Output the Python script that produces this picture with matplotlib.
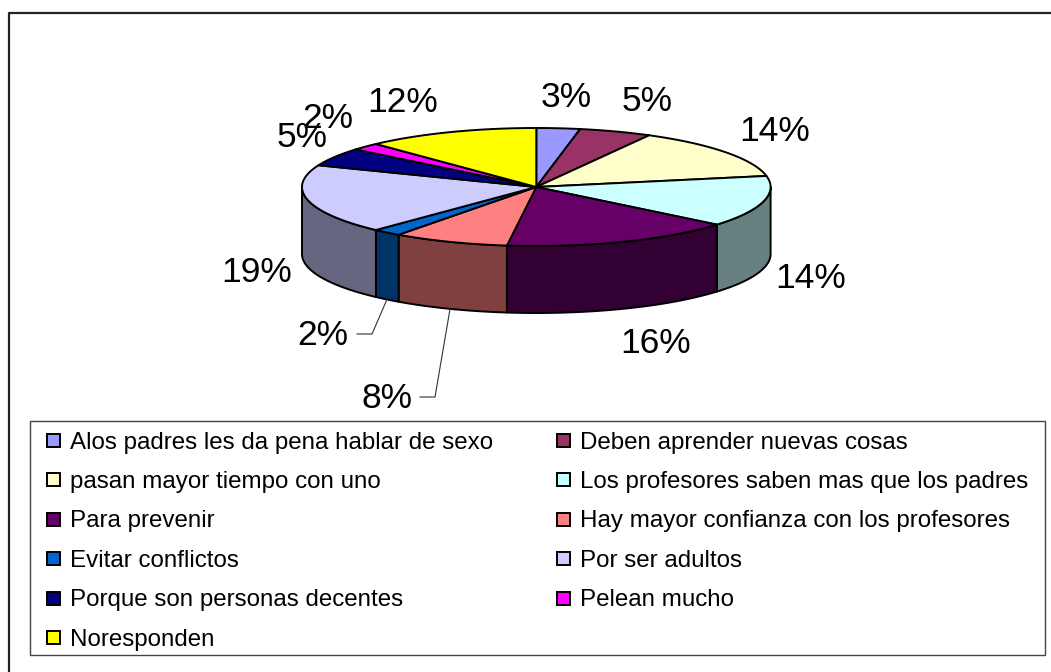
"""3D-style pie of reasons, Excel look, drawn with plain patches."""

import numpy as np
import matplotlib
matplotlib.use("Agg")
import matplotlib.pyplot as plt
from matplotlib.patches import Polygon, Rectangle
from matplotlib.lines import Line2D

plt.rcParams["font.family"] = ["Liberation Sans", "DejaVu Sans"]

# ---- data ---------------------------------------------------------------
categories = [
    "Alos padres les da pena hablar de sexo",
    "Deben aprender nuevas cosas",
    "pasan mayor tiempo con uno",
    "Los profesores saben mas que los padres",
    "Para prevenir",
    "Hay mayor confianza con los profesores",
    "Evitar conflictos",
    "Por ser adultos",
    "Porque son personas decentes",
    "Pelean mucho",
    "Noresponden",
]
percentages = [3, 5, 14, 14, 16, 8, 2, 19, 5, 2, 12]
colors = ["#9999FF", "#993366", "#FFFFCC", "#CCFFFF", "#660066", "#FF8080",
          "#0066CC", "#CCCCFF", "#000080", "#FF00FF", "#FFFF00"]

# ---- layout (pixels, y down) -----------------------------------------------
W, H = 1051, 672
cx, cy, rx, ry, depth = 536.3, 187.0, 234.3, 59.0, 67.0
label_xy = [(566, 107), (647, 111), (775, 141), (811, 288), (656, 353),
            (387, 408), (323, 345), (257, 282), (302, 147), (328, 128),
            (403, 112)]
leader = {5: (420, 397), 6: (357, 334)}

fig = plt.figure(figsize=(W / 100, H / 100), dpi=100)
ax = fig.add_axes([0, 0, 1, 1])
ax.set_xlim(0, W)
ax.set_ylim(H, 0)
ax.axis("off")


def ell(t, dy=0.0):
    t = np.radians(t)
    return cx + rx * np.sin(t), cy - ry * np.cos(t) + dy


def darker(c, f=0.5):
    r, g, b = matplotlib.colors.to_rgb(c)
    return (r * f, g * f, b * f)


bounds = np.concatenate([[0], np.cumsum(percentages)]) / sum(percentages) * 360

# outer walls (front half only)
for i, c in enumerate(colors):
    a0, a1 = max(bounds[i], 90), min(bounds[i + 1], 270)
    if a1 <= a0:
        continue
    t = np.linspace(a0, a1, 80)
    xt, yt = ell(t)
    xb, yb = ell(t[::-1], depth)
    pts = np.column_stack([np.r_[xt, xb], np.r_[yt, yb]])
    ax.add_patch(Polygon(pts, closed=True, fc=darker(c), ec="black", lw=1.4,
                         joinstyle="round"))

# top faces
for i, c in enumerate(colors):
    t = np.linspace(bounds[i], bounds[i + 1], 100)
    x, y = ell(t)
    pts = np.column_stack([np.r_[cx, x], np.r_[cy, y]])
    ax.add_patch(Polygon(pts, closed=True, fc=c, ec="black", lw=1.4,
                         joinstyle="round"))

# percentage labels
for i, p in enumerate(percentages):
    lx, ly = label_xy[i]
    ax.text(lx, ly, f"{p}%", fontsize=25.5, ha="center", va="baseline")
    if i in leader:
        mid = (bounds[i] + bounds[i + 1]) / 2
        sx, sy = ell(mid, depth)
        ex, ey = leader[i]
        ax.add_line(Line2D([sx, ex + 15, ex], [sy, ey, ey], color="#333333",
                           lw=0.8))

# outer chart frame (left & top edges visible)
ax.add_line(Line2D([8.5, 8.5, W + 5], [H + 5, 12.5, 12.5], color="#222222",
                   lw=1.6))

# legend
ax.add_patch(Rectangle((29.5, 420.5), 1015, 234.5, fc="white", ec="#444444",
                       lw=1.0))
col_x = [47, 557]
row0, dy_row = 440.5, 39.4
for i, (name, c) in enumerate(zip(categories, colors)):
    r, col = divmod(i, 2)
    y = row0 + r * dy_row
    x = col_x[col]
    ax.add_patch(Rectangle((x, y - 6.5), 13, 13, fc=c, ec="black", lw=1.4))
    ax.text(x + 23, y + 8.2, name, fontsize=17.4, ha="left", va="baseline")

fig.savefig("out.png", dpi=100)
